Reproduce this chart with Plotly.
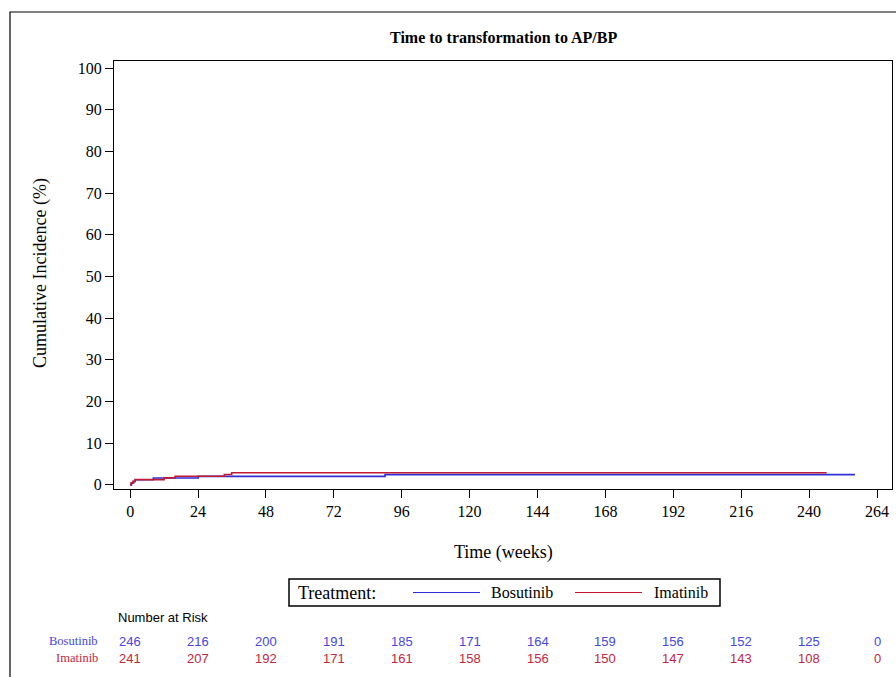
import plotly.graph_objects as go

# Cumulative incidence step curves (weeks, %)
bos_t = [0, 0.5, 1.2, 1.8, 8.2, 24.1, 90.1, 256.2]
bos_y = [0, 0.41, 0.81, 1.22, 1.63, 2.03, 2.44, 2.44]
ima_t = [0, 0.3, 1.0, 1.8, 12.0, 15.9, 33.3, 35.9, 246.2]
ima_y = [0, 0.41, 0.83, 1.24, 1.66, 2.07, 2.49, 2.90, 2.90]

# Number-at-risk table
risk_weeks = [0, 24, 48, 72, 96, 120, 144, 168, 192, 216, 240, 264]
bos_risk = [246, 216, 200, 191, 185, 171, 164, 159, 156, 152, 125, 0]
ima_risk = [241, 207, 192, 171, 161, 158, 156, 150, 147, 143, 108, 0]

groups = ["Bosutinib", "Imatinib"]
x_ticks = list(range(0, 265, 24))
y_ticks = list(range(0, 101, 10))

BLUE = "#2f2fd6"
RED = "#c01a34"
BLUE_TXT = "#4646e0"
RED_TXT = "#c42640"
SERIF = "Liberation Serif, Times New Roman, serif"
SANS = "Liberation Sans, Arial, sans-serif"

W, H = 896, 677
ML, MR, MT, MB = 114, 4, 61, 188
PW, PH = W - ML - MR, H - MT - MB


def px(xpix):
    return (xpix - ML) / PW


def py(ypix):
    return (MT + PH - ypix) / PH


def label(text, x, y, size, family=SERIF, color="black", xanchor="center", **kw):
    return dict(text=text, xref="paper", yref="paper", x=px(x), y=py(y),
                xanchor=xanchor, yanchor="middle", showarrow=False,
                font=dict(family=family, size=size, color=color), **kw)


fig = go.Figure()
fig.add_trace(go.Scatter(x=bos_t, y=bos_y, mode="lines", line_shape="hv",
                         line=dict(color=BLUE, width=1.6), name=groups[0],
                         showlegend=False))
fig.add_trace(go.Scatter(x=ima_t, y=ima_y, mode="lines", line_shape="hv",
                         line=dict(color=RED, width=1.6), name=groups[1],
                         showlegend=False))

axis_common = dict(showline=True, linecolor="black", linewidth=1, mirror=True,
                   ticks="outside", ticklen=8, tickcolor="black", tickwidth=1,
                   showgrid=False, zeroline=False,
                   tickfont=dict(family=SERIF, size=16, color="black"))

fig.update_xaxes(range=[-5.7, 269.3], tickvals=x_ticks, **axis_common)
fig.update_yaxes(range=[-1, 101.7], tickvals=y_ticks, **axis_common)

annotations = []
shapes = []

# Titles
annotations.append(label("<b>Time to transformation to AP/BP</b>", 503, 37, 16))
annotations.append(label("Time (weeks)", 504, 552, 18))
annotations.append(label("Cumulative Incidence (%)", 40, 273, 18, textangle=-90))

# Legend box
shapes.append(dict(type="rect", xref="paper", yref="paper",
                   x0=px(289), x1=px(720), y0=py(606), y1=py(579),
                   line=dict(color="black", width=1.5)))
annotations.append(label("Treatment:", 296, 592.5, 18, xanchor="left"))
for name, col, x0, x1, tx in [(groups[0], BLUE, 413, 480, 489), (groups[1], RED, 575, 642, 652)]:
    shapes.append(dict(type="line", xref="paper", yref="paper",
                       x0=px(x0), x1=px(x1), y0=py(592.5), y1=py(592.5),
                       line=dict(color=col, width=1.2)))
    annotations.append(label(name, tx, 592.5, 16, xanchor="left"))

# Number at risk
annotations.append(label("Number at Risk", 116, 617, 13, family=SANS, xanchor="left"))
for name, vals, col, ypix in [(groups[0], bos_risk, BLUE_TXT, 641), (groups[1], ima_risk, RED_TXT, 658)]:
    annotations.append(label(name, 100, ypix, 12.5, color=col, xanchor="right"))
    for wk, v in zip(risk_weeks, vals):
        annotations.append(dict(text=str(v), xref="x", yref="paper",
                                x=wk, y=py(ypix), xanchor="center", yanchor="middle",
                                showarrow=False,
                                font=dict(family=SANS, size=13, color=col)))

# Outer frame
shapes.append(dict(type="rect", xref="paper", yref="paper",
                   x0=px(10), x1=px(W + 20), y0=py(H + 20), y1=py(12),
                   line=dict(color="black", width=1.2), layer="below"))

fig.update_layout(width=W, height=H,
                  margin=dict(l=ML, r=MR, t=MT, b=MB, autoexpand=False),
                  paper_bgcolor="white", plot_bgcolor="white",
                  showlegend=False, annotations=annotations, shapes=shapes)

fig.write_html("out.html")
